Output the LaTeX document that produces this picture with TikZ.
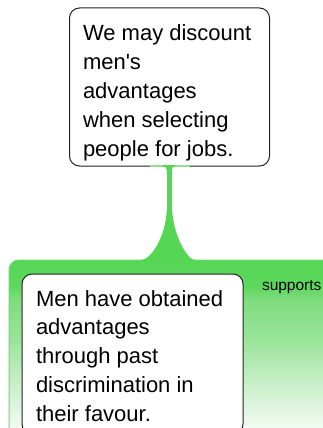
\documentclass[tikz,border=0pt]{standalone}
\usepackage{fontspec}
\setmainfont{Liberation Sans}
\usetikzlibrary{calc}
\definecolor{gA}{HTML}{55D655}
\definecolor{gB}{HTML}{5CD85C}
\definecolor{gC}{HTML}{7EDC7E}
\definecolor{gD}{HTML}{9AE49A}
\definecolor{gE}{HTML}{C5EEC5}
\definecolor{gF}{HTML}{F2FBF2}
\definecolor{gG}{HTML}{F6FCF6}
\definecolor{gLine}{HTML}{6ED86E}
\definecolor{gHi}{HTML}{8FE28F}
\definecolor{boxline}{HTML}{222222}
\pgfdeclareverticalshading{bandshade}{100bp}{color(0bp)=(gG); color(25bp)=(gG); color(28.3bp)=(gF); color(41.7bp)=(gE); color(52.8bp)=(gD); color(63.9bp)=(gC); color(68bp)=(gB); color(75bp)=(gA); color(100bp)=(gA)}
\begin{document}
\begin{tikzpicture}[x=1pt,y=-1pt,
  bandbox/.style={shading=bandshade, draw=gLine, line width=1pt, rounded corners=10pt, inner sep=0pt, outer sep=0pt},
  textbox/.style={draw=boxline, fill=white, line width=1pt, rounded corners=10pt, inner sep=0pt, outer sep=0pt},
  txt/.style={inner sep=0pt, outer sep=0pt, text=black, font=\fontsize{22}{28.8}\selectfont},
  lbl/.style={inner sep=0pt, outer sep=0pt, text=black, font=\fontsize{15.5}{18}\selectfont},
  conn/.style={fill=gA}]
\useasboundingbox (0,0) rectangle (323,428);
\clip (0,0) rectangle (323,428);
\fill[white] (0,0) rectangle (323,428);
% supporting group band
\node[bandbox, minimum width=340pt, minimum height=180pt, anchor=north west] (group) at (9,260) {};
% reason box
\node[textbox, minimum width=221pt, minimum height=160pt, anchor=north west] (reason) at (22,274) {};
\node[txt, anchor=base west] (reasontext) at (36,306) {\vtop{\hbox{Men have obtained}\hbox{advantages}\hbox{through past}\hbox{discrimination in}\hbox{their favour.}}};
% claim box
\node[textbox, minimum width=200pt, minimum height=158pt, anchor=north west] (claim) at (69.5,8) {};
\node[txt, anchor=base west] (claimtext) at (83,41) {\vtop{\hbox{We may discount}\hbox{men\textquotesingle s}\hbox{advantages}\hbox{when selecting}\hbox{people for jobs.}}};
% connector
\begin{scope}[shift={(claim.south)}]
\fill[conn] (-6.5,-1) -- (5.5,-1) .. controls (2.5,0) and (2.5,2) .. (2.5,9) -- (2.5,39)
  .. controls (2.5,69) and (17.5,92) .. (24.5,94) -- (24.5,96) -- (-27.5,96) -- (-27.5,94)
  .. controls (-17.5,92) and (-2.5,69) .. (-2.5,39) -- (-2.5,9)
  .. controls (-2.5,2) and (-3.5,0) .. (-6.5,-1) -- cycle;
\draw[gHi, line width=1.1pt] (-19.5,0) -- (20.5,0);
\fill[conn] (-6.5,-0.6) rectangle (5.5,0.6);
\end{scope}
% label
\node[lbl, anchor=base west] (suplabel) at (262,290.5) {supports};
\end{tikzpicture}
\end{document}
